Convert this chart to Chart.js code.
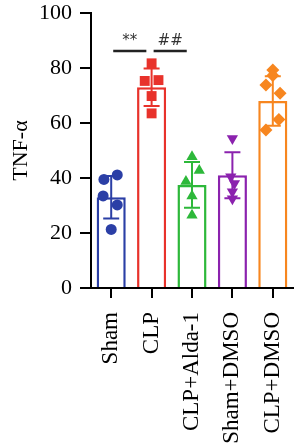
<!DOCTYPE html>
<html>
<head>
<meta charset="utf-8">
<script src="https://cdn.jsdelivr.net/npm/chart.js@4/dist/chart.umd.min.js"></script>
<style>
html,body{margin:0;padding:0;background:#fff;}
#wrap{width:300px;height:448px;position:relative;}
</style>
</head>
<body>
<div id="wrap"><canvas id="c" width="300" height="448"></canvas></div>
<script>
const categories = ['Sham', 'CLP', 'CLP+Alda-1', 'Sham+DMSO', 'CLP+DMSO'];
const yTicks = [0, 20, 40, 60, 80, 100];
const means = [33, 73, 37.5, 41, 68];
const sds = [7.7, 6.8, 8.3, 8.4, 9];
const colors = ['#2B3FA6', '#E8322B', '#2DB83A', '#8B22AE', '#F7861F'];
const pointStyles = ['circle', 'rect', 'triangle', 'triangle', 'rectRot'];
const pointRotations = [0, 0, 0, 180, 0];
const pointRadii = [5.5, 7, 6.5, 6.5, 6.5];
const shamPts = [39.5, 41.1, 33.5, 30.2, 21.3];
const shamOff = [-0.18, 0.15, -0.2, 0.15, 0];
const clpPts = [81.7, 75.3, 75.6, 69.8, 63.5];
const clpOff = [0, -0.17, 0.17, 0, 0];
const aldaPts = [47.7, 42.7, 38.7, 33.5, 26.5];
const aldaOff = [0, 0.18, -0.15, 0, 0];
const shamDmsoPts = [54.4, 40.5, 38, 35, 32.5];
const shamDmsoOff = [0, -0.04, 0.05, 0, 0];
const clpDmsoPts = [79.3, 77.3, 73.8, 70.8, 61.3, 57.5];
const clpDmsoOff = [0, 0, -0.17, 0.18, 0.15, -0.17];
const sigLabels = ['**', '##'];
const sigFrom = [0, 1];
const sigTo = [1, 2];
const sigValue = 86.2;

const groups = [
  [shamPts, shamOff], [clpPts, clpOff], [aldaPts, aldaOff],
  [shamDmsoPts, shamDmsoOff], [clpDmsoPts, clpDmsoOff]
];

const FONT = "'Liberation Serif', 'DejaVu Serif', serif";

const scatterSets = groups.map((g, i) => ({
  type: 'scatter',
  data: g[0].map((v, j) => ({ x: i + g[1][j], y: v })),
  pointStyle: pointStyles[i],
  rotation: pointRotations[i],
  radius: pointRadii[i],
  backgroundColor: colors[i],
  borderColor: colors[i],
  borderWidth: 0,
  order: 1
}));

const errorBars = {
  id: 'errorBars',
  afterDatasetsDraw(chart) {
    const ctx = chart.ctx;
    const x = chart.scales.x, y = chart.scales.y;
    ctx.save();
    ctx.lineWidth = 2;
    means.forEach((m, i) => {
      const cx = x.getPixelForValue(i);
      const top = y.getPixelForValue(m + sds[i]);
      const bot = y.getPixelForValue(m - sds[i]);
      const cap = 8;
      ctx.strokeStyle = colors[i];
      ctx.beginPath();
      ctx.moveTo(cx, top); ctx.lineTo(cx, bot);
      ctx.moveTo(cx - cap, top); ctx.lineTo(cx + cap, top);
      ctx.moveTo(cx - cap, bot); ctx.lineTo(cx + cap, bot);
      ctx.stroke();
    });
    const yy = y.getPixelForValue(sigValue);
    ctx.strokeStyle = '#222';
    ctx.fillStyle = '#333';
    ctx.lineWidth = 2.5;
    ctx.font = "15px 'DejaVu Sans', sans-serif";
    ctx.textAlign = 'center';
    ctx.textBaseline = 'bottom';
    sigLabels.forEach((lab, k) => {
      const a = x.getPixelForValue(sigFrom[k] + 0.05);
      const b = x.getPixelForValue(sigTo[k] - 0.13);
      ctx.beginPath();
      ctx.moveTo(a, yy); ctx.lineTo(b, yy);
      ctx.stroke();
      ctx.fillText(lab, (a + b) / 2, yy - 2);
    });
    ctx.restore();
  }
};

new Chart(document.getElementById('c'), {
  type: 'bar',
  data: {
    datasets: [{
      data: means.map((m, i) => ({ x: i, y: m })),
      backgroundColor: '#ffffff',
      borderColor: colors,
      borderWidth: 2.5,
      categoryPercentage: 1,
      barPercentage: 0.72,
      order: 2
    }, ...scatterSets]
  },
  options: {
    responsive: false,
    animation: false,
    layout: { padding: { left: 8, right: 7, top: 13, bottom: 0 } },
    plugins: { legend: { display: false }, tooltip: { enabled: false } },
    scales: {
      x: {
        type: 'linear',
        min: -0.5, max: 4.5, offset: false,
        afterBuildTicks(s) { s.ticks = categories.map((c, i) => ({ value: i })); },
        grid: { offset: false, drawOnChartArea: false, drawTicks: true, tickLength: 10, color: '#000', lineWidth: 2 },
        border: { display: true, color: '#000', width: 2 },
        ticks: {
          color: '#000', font: { family: FONT, size: 23 }, minRotation: 90, maxRotation: 90, padding: 14, autoSkip: false,
          callback: (v) => categories[v]
        },
        afterFit(s) { s.height = 160; s.paddingLeft = 0; s.paddingRight = 0; }
      },
      y: {
        min: 0, max: 100,
        afterBuildTicks(s) { s.ticks = yTicks.map(v => ({ value: v })); },
        grid: { drawOnChartArea: false, drawTicks: true, tickLength: 11, color: '#000', lineWidth: 2 },
        border: { display: true, color: '#000', width: 2 },
        ticks: { color: '#000', font: { family: FONT, size: 22 }, padding: 8 },
        title: { display: true, text: 'TNF-α', color: '#000', font: { family: FONT, size: 22 }, padding: 0 },
        afterFit(s) { s.width = 83; s.paddingTop = 0; s.paddingBottom = 0; }
      }
    }
  },
  plugins: [errorBars]
});
</script>
</body>
</html>
